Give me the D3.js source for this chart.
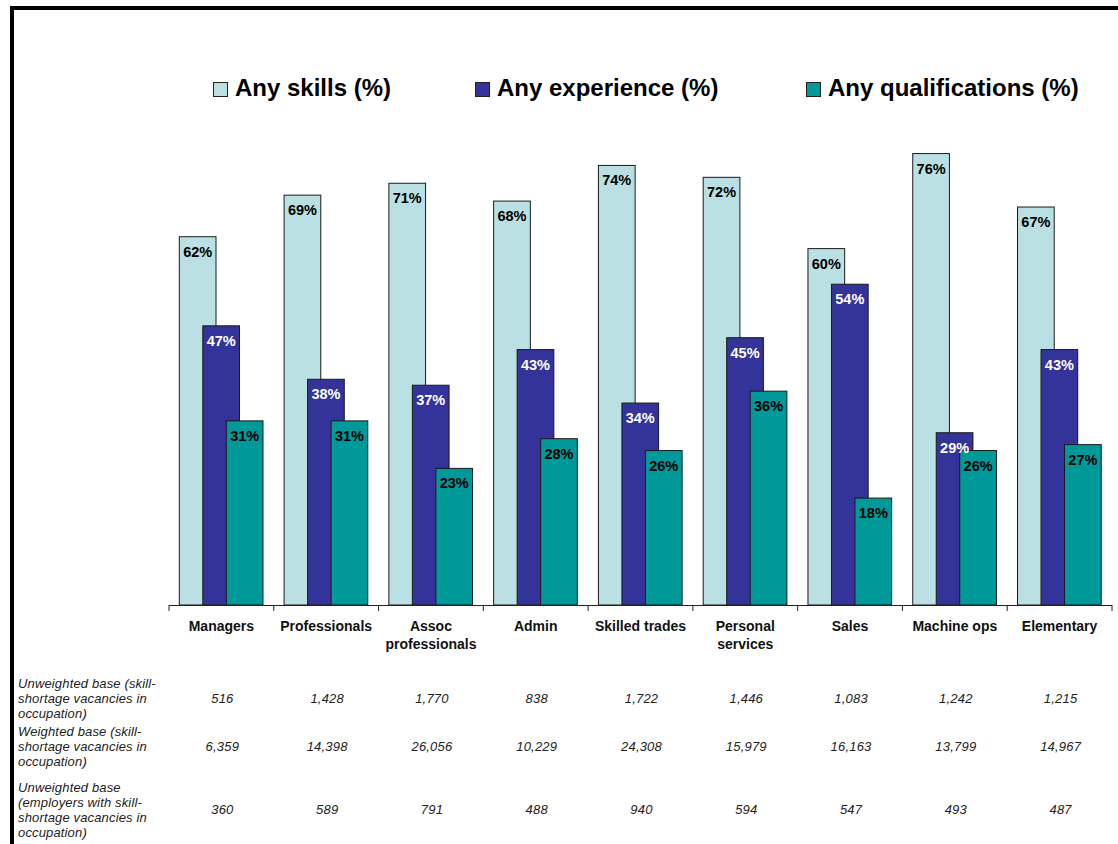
<!DOCTYPE html>
<html>
<head>
<meta charset="utf-8">
<script src="https://cdn.jsdelivr.net/npm/d3@7"></script>
<style>
  html, body { margin: 0; padding: 0; background: #fff; }
  svg { display: block; font-family: "Liberation Sans", Arial, sans-serif; }
</style>
</head>
<body>
<svg id="chart" width="1118" height="844"></svg>
<script>
// Occupations (second line of a label after "\n")
const categories = ["Managers", "Professionals", "Assoc\nprofessionals", "Admin", "Skilled trades",
                    "Personal\nservices", "Sales", "Machine ops", "Elementary"];

// Percentages by series
const series = ["Any skills (%)", "Any experience (%)", "Any qualifications (%)"];
const anySkills         = [62, 69, 71, 68, 74, 72, 60, 76, 67];
const anyExperience     = [47, 38, 37, 43, 34, 45, 54, 29, 43];
const anyQualifications = [31, 31, 23, 28, 26, 36, 18, 26, 27];

// Base sizes shown under the chart
const unweightedVacancies = [516, 1428, 1770, 838, 1722, 1446, 1083, 1242, 1215];
const weightedVacancies   = [6359, 14398, 26056, 10229, 24308, 15979, 16163, 13799, 14967];
const unweightedEmployers = [360, 589, 791, 488, 940, 594, 547, 493, 487];

const baseRowLabels = [
  ["Unweighted base (skill-", "shortage vacancies in", "occupation)"],
  ["Weighted base (skill-", "shortage vacancies in", "occupation)"],
  ["Unweighted base", "(employers with skill-", "shortage vacancies in", "occupation)"]
];

const colors = ["#BBE0E3", "#333399", "#009999"];
const labelColors = ["#000", "#fff", "#000"];

const svg = d3.select("#chart");

// Frame lines along the top and left edges
svg.append("line").attr("x1", 12).attr("x2", 1118).attr("y1", 8).attr("y2", 8)
  .attr("stroke", "#000").attr("stroke-width", 4);
svg.append("line").attr("x1", 12).attr("x2", 12).attr("y1", 6).attr("y2", 844)
  .attr("stroke", "#000").attr("stroke-width", 4);

// Scales
const x = d3.scaleBand().domain(d3.range(categories.length)).range([169, 1112]).padding(0);
const xSeries = d3.scalePoint().domain(d3.range(series.length)).range([10.3, 57.3]);
const barW = 36.7;
const y = d3.scaleLinear().domain([0, 100]).range([605, 11]);

const values = [anySkills, anyExperience, anyQualifications];

// Bars, drawn series by series so later series overlap earlier ones
values.forEach((vals, s) => {
  svg.append("g").selectAll("rect").data(vals).join("rect")
    .attr("x", (d, i) => x(i) + xSeries(s))
    .attr("y", d => y(d))
    .attr("width", barW)
    .attr("height", d => y(0) - y(d))
    .attr("fill", colors[s])
    .attr("stroke", "#1a1a1a")
    .attr("stroke-width", 1);
});

// Value labels inside the top of each bar
values.forEach((vals, s) => {
  svg.append("g").selectAll("text").data(vals).join("text")
    .attr("x", (d, i) => x(i) + xSeries(s) + barW / 2)
    .attr("y", d => y(d) + 20)
    .attr("text-anchor", "middle")
    .attr("font-size", 14.5)
    .attr("font-weight", "bold")
    .attr("fill", labelColors[s])
    .text(d => d + "%");
});

// Category axis: baseline with ticks at band boundaries
const axisG = svg.append("g").attr("transform", "translate(0,605)");
axisG.append("line").attr("x1", 169).attr("x2", 1112).attr("y1", 0.5).attr("y2", 0.5)
  .attr("stroke", "#222").attr("stroke-width", 1);
axisG.selectAll("line.tick").data(d3.range(categories.length + 1)).join("line")
  .attr("class", "tick")
  .attr("x1", i => (i < categories.length ? x(i) : x.range()[1]))
  .attr("x2", i => (i < categories.length ? x(i) : x.range()[1]))
  .attr("y1", 0).attr("y2", 6)
  .attr("stroke", "#222").attr("stroke-width", 1);

const catLabels = svg.append("g").selectAll("text").data(categories).join("text")
  .attr("x", (d, i) => x(i) + x.bandwidth() / 2)
  .attr("y", 631)
  .attr("text-anchor", "middle")
  .attr("font-size", 14)
  .attr("font-weight", "bold")
  .attr("fill", "#111");
catLabels.each(function(d) {
  const sel = d3.select(this);
  const cx = sel.attr("x");
  d.split("\n").forEach((line, k) => {
    sel.append("tspan").attr("x", cx).attr("dy", k === 0 ? 0 : 18).text(line);
  });
});

// Legend
const legendX = [213, 475, 806];
const legend = svg.append("g").selectAll("g").data(series).join("g")
  .attr("transform", (d, i) => `translate(${legendX[i]},0)`);
legend.append("rect").attr("x", 0.5).attr("y", 82.5).attr("width", 14).attr("height", 14)
  .attr("fill", (d, i) => colors[i]).attr("stroke", "#222").attr("stroke-width", 1);
legend.append("text").attr("x", 22).attr("y", 96)
  .attr("font-size", 24).attr("font-weight", "bold").attr("fill", "#000")
  .text(d => d);

// Base-size table
const rowBaselines = [688, 736, 792];
const valueBaselines = [703, 751, 814];
const baseRows = [unweightedVacancies, weightedVacancies, unweightedEmployers];
const fmt = d3.format(",");

baseRowLabels.forEach((lines, r) => {
  const t = svg.append("text")
    .attr("x", 18).attr("y", rowBaselines[r])
    .attr("font-size", 13).attr("letter-spacing", 0.15)
    .attr("font-style", "italic").attr("fill", "#222");
  lines.forEach((line, k) => {
    t.append("tspan").attr("x", 18).attr("dy", k === 0 ? 0 : 15).text(line);
  });
});

baseRows.forEach((vals, r) => {
  svg.append("g").selectAll("text").data(vals).join("text")
    .attr("x", (d, i) => x(i) + x.bandwidth() / 2 + 1)
    .attr("y", valueBaselines[r])
    .attr("text-anchor", "middle")
    .attr("font-size", 13).attr("letter-spacing", 0.2)
    .attr("font-style", "italic").attr("fill", "#222")
    .text(d => fmt(d));
});
</script>
</body>
</html>
